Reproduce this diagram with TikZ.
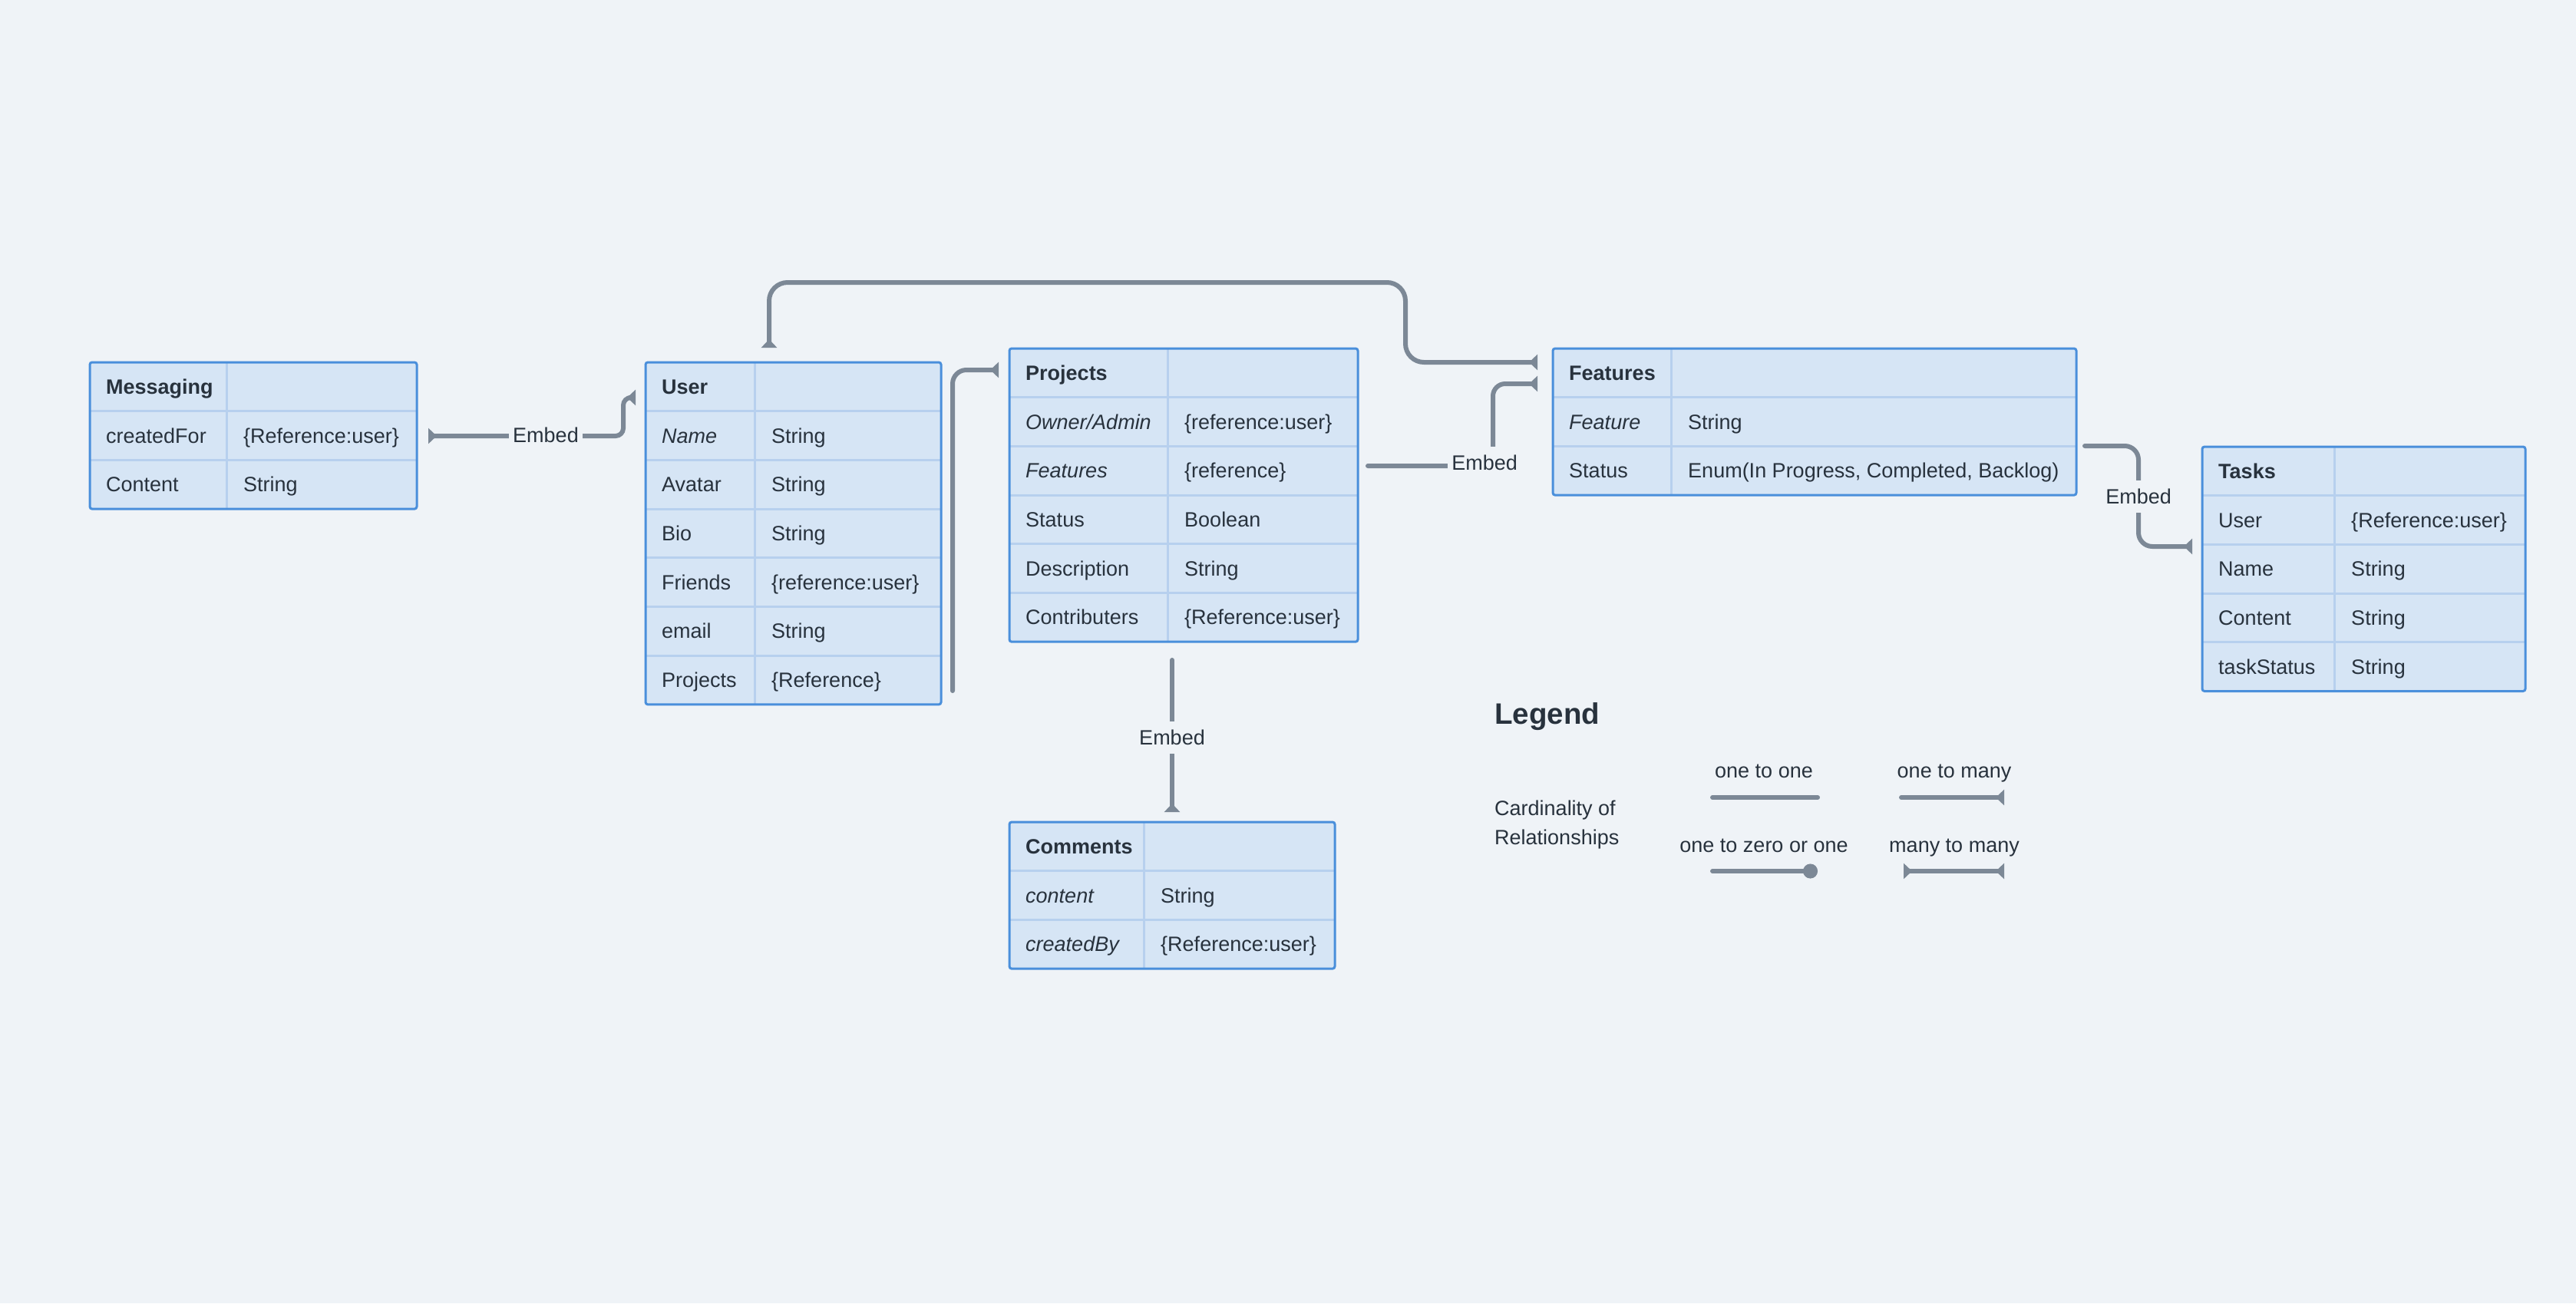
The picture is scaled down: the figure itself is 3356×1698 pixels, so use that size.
\documentclass[tikz,border=0pt]{standalone}
\usepackage{fontspec}
\setmainfont{Liberation Sans}
\usetikzlibrary{arrows.meta}
\definecolor{bgc}{HTML}{EFF3F7}
\definecolor{cellc}{HTML}{D6E5F5}
\definecolor{borderc}{HTML}{4A8FDB}
\definecolor{gridc}{HTML}{B7D0EE}
\definecolor{linec}{HTML}{7C8896}
\definecolor{txtc}{HTML}{28323D}
\newcommand\cellfont{\fontsize{27}{32}\selectfont}
\tikzset{
  tblfill/.style={fill=cellc, anchor=north west, inner sep=0pt, outer sep=0pt},
  gridline/.style={draw=gridc, line width=3pt},
  tblborder/.style={draw=borderc, line width=3pt, rounded corners=3pt},
  rowbox/.style={anchor=north west, inner sep=0pt, outer sep=0pt, minimum height=63.7pt},
  celltxt/.style={anchor=base west, inner sep=0pt, text=txtc, font=\cellfont},
  lgtxt/.style={anchor=base, inner sep=0pt, text=txtc, font=\cellfont},
  lbl/.style={fill=bgc, text=txtc, font=\cellfont, inner xsep=5pt, inner ysep=11pt},
  connector/.style={draw=linec, line width=6pt, line cap=round},
  >={Triangle[reversed, width=20pt, length=11pt]}
}
\newcommand\erdtab[6]{%
  \def\eName{#1}\def\eL{#2}\def\eT{#3}\def\eD{#4}\def\eR{#5}%
  \pgfmathsetmacro\eB{#3+#6*63.7}%
  \pgfmathtruncatemacro\eM{#6-1}%
  \node[tblfill, minimum width={#5-#2}, minimum height={#6*63.7}] (#1) at (#2,#3) {};
  \draw[gridline] (#4,#3) -- (#4,\eB);
  \foreach \k in {1,...,\eM}{\draw[gridline] (#2,{#3+\k*63.7}) -- (#5,{#3+\k*63.7});}
  \draw[tblborder] (#2,#3) rectangle (#5,\eB);
}
\newcommand\ehead[1]{%
  \node[rowbox, minimum width={\eR-\eL}] (\eName-r0) at (\eL,\eT) {};
  \node[celltxt] (\eName-k0) at ({\eL+21},{\eT+41.3}) {\bfseries #1};
}
\newcommand\erow[3]{%
  \node[rowbox, minimum width={\eR-\eL}] (\eName-r#1) at (\eL,{\eT+#1*63.7}) {};
  \node[celltxt] (\eName-k#1) at ({\eL+21},{\eT+#1*63.7+41.3}) {#2};
  \node[celltxt] (\eName-v#1) at ({\eD+22},{\eT+#1*63.7+41.3}) {#3};
}
\begin{document}
\begin{tikzpicture}[x=1pt, y=-1pt]
\fill[bgc] (0,0) rectangle (3356,1698);
\useasboundingbox (0,0) rectangle (3356,1698);

% Messaging
\erdtab{msg}{117}{472}{295}{543}{3}
\ehead{Messaging}
\erow{1}{createdFor}{\{Reference:user\}}
\erow{2}{Content}{String}

% User
\erdtab{usr}{841}{472}{983}{1226}{7}
\ehead{User}
\erow{1}{\itshape Name}{String}
\erow{2}{Avatar}{String}
\erow{3}{Bio}{String}
\erow{4}{Friends}{\{reference:user\}}
\erow{5}{email}{String}
\erow{6}{Projects}{\{Reference\}}

% Projects
\erdtab{prj}{1315}{454}{1521}{1769}{6}
\ehead{Projects}
\erow{1}{\itshape Owner/Admin}{\{reference:user\}}
\erow{2}{\itshape Features}{\{reference\}}
\erow{3}{Status}{Boolean}
\erow{4}{Description}{String}
\erow{5}{Contributers}{\{Reference:user\}}

% Features
\erdtab{fea}{2023}{454}{2177}{2705}{3}
\ehead{Features}
\erow{1}{\itshape Feature}{String}
\erow{2}{Status}{Enum(In Progress, Completed, Backlog)}

% Tasks
\erdtab{tsk}{2869}{582}{3041}{3290}{5}
\ehead{Tasks}
\erow{1}{User}{\{Reference:user\}}
\erow{2}{Name}{String}
\erow{3}{Content}{String}
\erow{4}{taskStatus}{String}

% Comments
\erdtab{com}{1315}{1071}{1490}{1739}{3}
\ehead{Comments}
\erow{1}{\itshape content}{String}
\erow{2}{\itshape createdBy}{\{Reference:user\}}

% connector end points
\coordinate (p1s) at (558,568);
\coordinate (p1e) at (828,518);
\coordinate (p2s) at (1002,453);
\coordinate (p2e) at (2003,472);
\coordinate (p3s) at (1782,607);
\coordinate (p3e) at (2003,500);
\coordinate (p4s) at (2716,581);
\coordinate (p4e) at (2856,712);
\coordinate (p5s) at (1527,860);
\coordinate (p5e) at (1527,1058);
\coordinate (p6s) at (1241,900);
\coordinate (p6e) at (1301,482);

% connectors
\draw[connector, <->, rounded corners=10pt] (p1s) -- (812,568) -- (812,518) -- (p1e);
\draw[connector, <->, rounded corners=24pt] (p2s) -- (1002,368) -- (1831,368) -- (1831,472) -- (p2e);
\draw[connector, ->, rounded corners=16pt] (p3s) -- (1945,607) -- (1945,500) -- (p3e);
\draw[connector, ->, rounded corners=18pt] (p4s) -- (2786,581) -- (2786,712) -- (p4e);
\draw[connector, ->] (p5s) -- (p5e);
\draw[connector, ->, rounded corners=18pt] (p6s) -- (1241,482) -- (p6e);

% labels
\node[lbl] (l1) at (711,567) {Embed};
\node[lbl] (l3) at (1934,603) {Embed};
\node[lbl] (l4) at (2786,647) {Embed};
\node[lbl] (l5) at (1527,961) {Embed};

% legend
\node[celltxt, font=\fontsize{38.5}{44}\selectfont\bfseries] (lgtitle) at (1947,943) {Legend};
\node[celltxt] (lgc1) at (1947,1062) {Cardinality of};
\node[celltxt] (lgc2) at (1947,1100) {Relationships};
\node[lgtxt] (lgt1) at (2298,1013) {one to one};
\node[lgtxt] (lgt2) at (2546,1013) {one to many};
\node[lgtxt] (lgt3) at (2298,1110) {one to zero or one};
\node[lgtxt] (lgt4) at (2546,1110) {many to many};
\coordinate (s1a) at (2231,1039); \coordinate (s1b) at (2368,1039);
\coordinate (s2a) at (2477,1039); \coordinate (s2b) at (2611,1039);
\coordinate (s3a) at (2231,1135); \coordinate (s3b) at (2368,1135);
\coordinate (s4a) at (2480,1135); \coordinate (s4b) at (2611,1135);
\draw[connector] (s1a) -- (s1b);
\draw[connector, ->] (s2a) -- (s2b);
\draw[connector, -{Circle[length=19pt]}] (s3a) -- (s3b);
\draw[connector, <->] (s4a) -- (s4b);
\end{tikzpicture}
\end{document}
